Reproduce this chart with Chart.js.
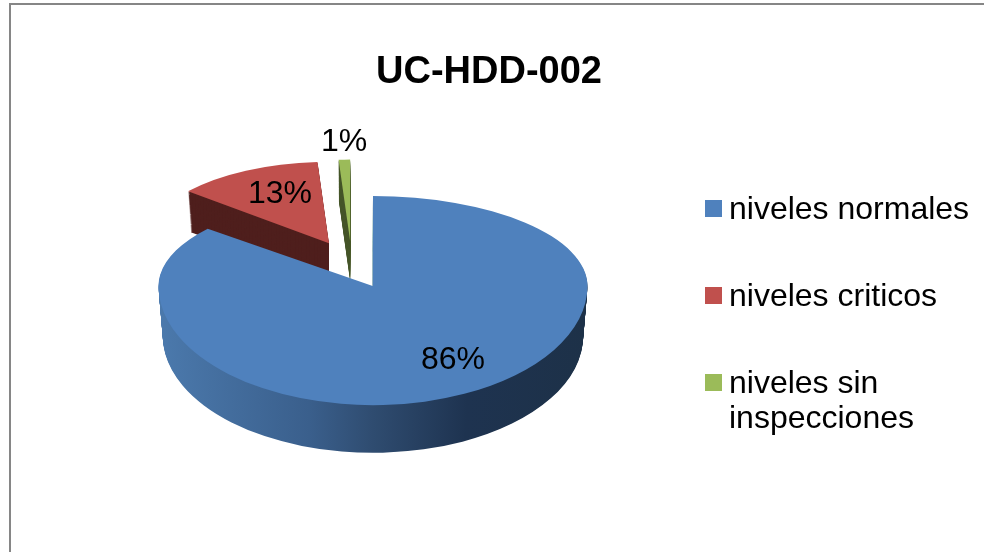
<!DOCTYPE html>
<html>
<head>
<meta charset="utf-8">
<title>UC-HDD-002</title>
<style>
    html, body { margin: 0; padding: 0; background: #fff; overflow: hidden; }
    #frame { position: absolute; left: 9px; top: 3px; right: 0; bottom: 0; border-left: 2px solid #868686; border-top: 2px solid #868686; }
    #pieChart { position: absolute; left: 0; top: 0; }
    #legend { position: absolute; left: 705px; top: 191px; font: 32px/35px "Liberation Sans", Arial, sans-serif; color: #000; }
    .legend-row { display: flex; align-items: flex-start; margin-bottom: 52px; }
    .legend-box { width: 17px; height: 17px; margin: 9px 7px 0 0; flex: none; }
</style>
<script src="https://cdn.jsdelivr.net/npm/chart.js@4"></script>
</head>
<body>
<div id="frame"></div>
<canvas id="pieChart" width="984" height="552"></canvas>
<div id="legend"></div>
<script>
const chartTitle = 'UC-HDD-002';
const categories = ['niveles normales', 'niveles criticos', ['niveles sin', 'inspecciones']];
const percentages = [86, 13, 1];
const faceColors = ['#4f81bd', '#c0504d', '#9bbb59'];
const wallColors = [null, '#4f1f1d', '#46562a'];

// fake 3D view of the pie, canvas can only do affine so the perspective is done per slice
const pieBase = { x: 351.7, y: 261 };
const explode = 50;
const sliceScale = [1, 0.853, 0.853];
const sliceDepth = [50, 40, 40];
const squashUp = [0.42, 0.445, 0.445];
const squashDown = 0.555;
const explodeUp = 0.4;
const labelSpots = [[453, 360], [280, 194], [344, 142]];

function apexOf(arc) {
    const mid = (arc.startAngle + arc.endAngle) / 2;
    const dy = Math.sin(mid) * explode;
    return {
        x: pieBase.x + Math.cos(mid) * explode,
        y: pieBase.y + dy * (dy > 0 ? squashDown : explodeUp)
    };
}

function drawPart(ctx, arc, apex, drop, scaleX, squash, clipSide) {
    ctx.save();
    if (clipSide) {
        const splitY = Math.round(apex.y + drop);
        ctx.beginPath();
        ctx.rect(0, clipSide < 0 ? 0 : splitY, 984, clipSide < 0 ? splitY : 552 - splitY);
        ctx.clip();
    }
    ctx.translate(apex.x, apex.y + drop);
    ctx.scale(scaleX, scaleX * squash);
    ctx.translate(-arc.x, -arc.y);
    arc.draw(ctx);
    ctx.restore();
}

function drawSlice(ctx, arc, i) {
    const apex = apexOf(arc);
    const s = sliceScale[i];
    const faceOptions = arc.options;

    let wallFill = wallColors[i];
    if (!wallFill) {
        wallFill = ctx.createLinearGradient(arc.x - arc.outerRadius, 0, arc.x + arc.outerRadius, 0);
        wallFill.addColorStop(0, '#4b79ac');
        wallFill.addColorStop(0.35, '#3a5f8c');
        wallFill.addColorStop(0.5, '#2f4c70');
        wallFill.addColorStop(0.72, '#1e3350');
        wallFill.addColorStop(1, '#1d3148');
    }

    arc.options = Object.assign({}, faceOptions, { backgroundColor: wallFill });
    for (let d = sliceDepth[i]; d > 0; d--) {
        const shrink = 1 - 0.02 * d / sliceDepth[i];
        if (i === 0) {
            drawPart(ctx, arc, apex, d, s * shrink, squashUp[i], -1);
            drawPart(ctx, arc, apex, d, s * shrink, squashDown, 1);
        } else {
            drawPart(ctx, arc, apex, d, s * shrink, squashUp[i], 0);
        }
    }
    arc.options = faceOptions;

    if (i === 0) {
        drawPart(ctx, arc, apex, 0, s, squashUp[i], -1);
        drawPart(ctx, arc, apex, 0, s, squashDown, 1);
    } else {
        drawPart(ctx, arc, apex, 0, s, squashUp[i], 0);
    }
}

const pie3d = {
    id: 'pie3d',
    beforeDatasetsDraw(chart) {
        const ctx = chart.ctx;
        const arcs = chart.getDatasetMeta(0).data;
        [2, 1, 0].forEach((i) => drawSlice(ctx, arcs[i], i));

        ctx.save();
        ctx.font = '32px "Liberation Sans", Arial, sans-serif';
        ctx.fillStyle = '#000';
        ctx.textAlign = 'center';
        ctx.textBaseline = 'middle';
        percentages.forEach((value, i) => {
            ctx.fillText(value + '%', labelSpots[i][0], labelSpots[i][1]);
        });
        ctx.restore();
        return false;
    }
};

const pieChart = new Chart(document.getElementById('pieChart'), {
    type: 'pie',
    data: {
        labels: categories,
        datasets: [{
            data: percentages,
            backgroundColor: faceColors,
            borderWidth: 0,
            radius: 214.5
        }]
    },
    options: {
        responsive: false,
        animation: false,
        events: [],
        layout: { padding: { right: 6 } },
        plugins: {
            legend: { display: false },
            tooltip: { enabled: false },
            title: {
                display: true,
                text: chartTitle,
                color: '#000',
                font: { family: '"Liberation Sans", Arial, sans-serif', size: 38, weight: 'bold' },
                padding: { top: 50, bottom: 0 }
            }
        }
    },
    plugins: [pie3d]
});

// legend as html so the gap between box and text can match
const legendBox = document.getElementById('legend');
categories.forEach((label, i) => {
    const row = document.createElement('div');
    row.className = 'legend-row';
    const box = document.createElement('span');
    box.className = 'legend-box';
    box.style.background = faceColors[i];
    const text = document.createElement('span');
    text.innerHTML = [].concat(label).join('<br>');
    row.appendChild(box);
    row.appendChild(text);
    legendBox.appendChild(row);
});
</script>
</body>
</html>
